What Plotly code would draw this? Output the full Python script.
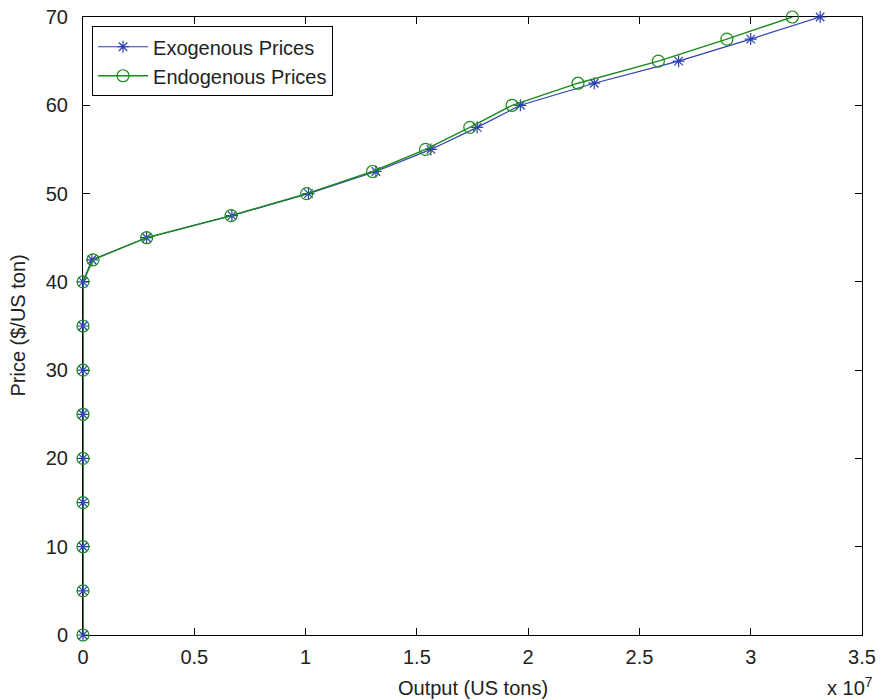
import plotly.graph_objects as go

prices = [0, 5, 10, 15, 20, 25, 30, 35, 40, 42.5, 45, 47.5, 50, 52.5, 55,
          57.5, 60, 62.5, 65, 67.5, 70]
exo_output_e7 = [0, 0, 0, 0, 0, 0, 0, 0, 0, 0.040, 0.286, 0.669, 1.013, 1.316,
                 1.563, 1.771, 1.965, 2.297, 2.676, 3.000, 3.312]
endo_output_e7 = [0, 0, 0, 0, 0, 0, 0, 0, 0, 0.045, 0.286, 0.665, 1.005, 1.301,
                  1.539, 1.738, 1.928, 2.224, 2.585, 2.893, 3.187]
x_tick_labels = ["0", "0.5", "1", "1.5", "2", "2.5", "3", "3.5"]
y_ticks = [0, 10, 20, 30, 40, 50, 60, 70]

SCALE = 1e7
exo_x = [v * SCALE for v in exo_output_e7]
endo_x = [v * SCALE for v in endo_output_e7]
x_tickvals = [float(t) * SCALE for t in x_tick_labels]

BLUE = "#2e3fb0"
GREEN = "#1a8a1a"
FONT = "Liberation Sans, Arial, Helvetica, sans-serif"
TXT = "#222"

fig = go.Figure()
fig.add_trace(go.Scatter(
    x=exo_x, y=prices, mode="lines+markers", name="Exogenous Prices",
    line=dict(color=BLUE, width=1.2), cliponaxis=False,
    marker=dict(symbol="asterisk-open", size=10, color=BLUE,
                line=dict(color=BLUE, width=1.2)),
))
fig.add_trace(go.Scatter(
    x=endo_x, y=prices, mode="lines+markers", name="Endogenous Prices",
    line=dict(color=GREEN, width=1.4), cliponaxis=False,
    marker=dict(symbol="circle-open", size=12, color=GREEN,
                line=dict(color=GREEN, width=1.2)),
))

axis_common = dict(
    showline=True, linecolor="black", linewidth=1, mirror="ticks",
    ticks="inside", ticklen=7, tickwidth=1, tickcolor="black",
    showgrid=False, zeroline=False, automargin=False, layer="below traces",
    tickfont=dict(family=FONT, size=20, color=TXT),
)

fig.update_layout(
    width=881, height=700,
    margin=dict(l=83, r=19, t=17, b=65),
    paper_bgcolor="white", plot_bgcolor="white",
    font=dict(family=FONT, size=20, color=TXT),
    showlegend=True,
    legend=dict(
        x=0.0116, y=0.985, xanchor="left", yanchor="top",
        bgcolor="white", bordercolor="black", borderwidth=1,
        font=dict(family=FONT, size=20, color=TXT),
        itemwidth=50, tracegroupgap=0,
    ),
    xaxis=dict(range=[0, 3.5 * SCALE], tickvals=x_tickvals,
               ticktext=x_tick_labels, ticklabelstandoff=4, **axis_common),
    yaxis=dict(range=[0, 70], tickvals=y_ticks, ticklabelstandoff=10,
               **axis_common),
    annotations=[
        dict(text="Output (US tons)", xref="paper", yref="paper",
             x=0.5, y=-0.086, xanchor="center", yanchor="middle",
             showarrow=False, font=dict(family=FONT, size=20, color=TXT)),
        dict(text="Price ($/US ton)", xref="paper", yref="paper",
             x=-0.084, y=0.5, xanchor="center", yanchor="middle",
             textangle=-90, showarrow=False,
             font=dict(family=FONT, size=20, color=TXT)),
        dict(text="x 10<sup>7</sup>", xref="paper", yref="paper",
             x=0.985, y=-0.084, xanchor="center", yanchor="middle",
             showarrow=False, font=dict(family=FONT, size=20, color=TXT)),
    ],
)

fig.write_html("out.html")
